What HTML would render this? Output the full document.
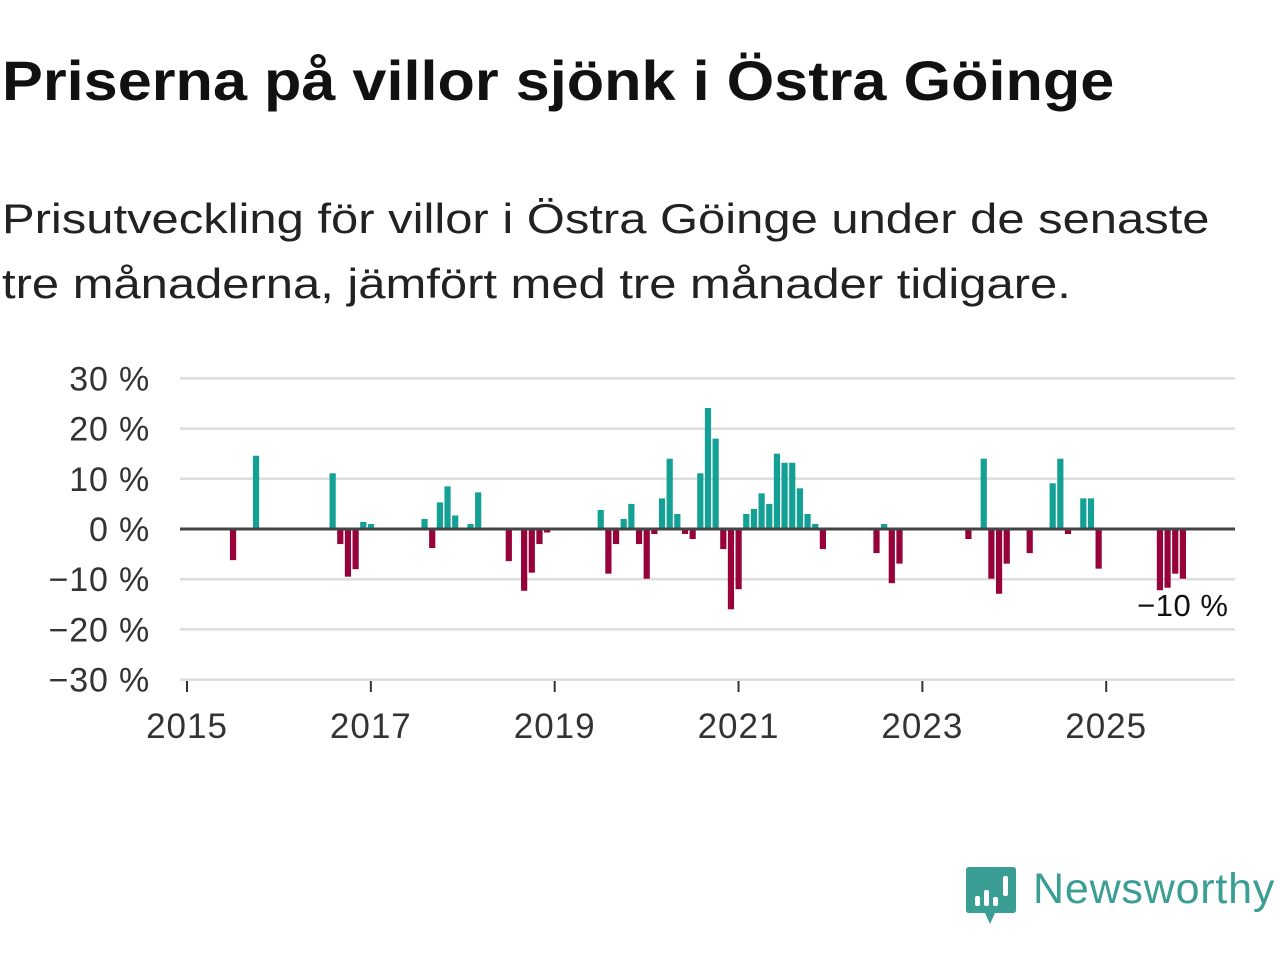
<!DOCTYPE html>
<html><head><meta charset="utf-8">
<style>
html,body{margin:0;padding:0;background:#fff;width:1280px;height:960px;overflow:hidden;font-family:"Liberation Sans","DejaVu Sans",sans-serif;}
#title{position:absolute;left:2px;top:48px;font-size:56px;font-weight:bold;color:#111;margin:0;white-space:nowrap;transform-origin:0 0;transform:scaleX(1.093)}
#subtitle{position:absolute;left:2px;top:186px;font-size:42px;line-height:65px;color:#222;margin:0;white-space:nowrap;transform-origin:0 0;transform:scaleX(1.165)}
svg{position:absolute;left:0;top:0}
</style></head><body>
<h1 id="title">Priserna på villor sjönk i Östra Göinge</h1>
<p id="subtitle">Prisutveckling för villor i Östra Göinge under de senaste<br>tre månaderna, jämfört med tre månader tidigare.</p>
<svg id="chart" width="1280" height="960"></svg>
<script>
const months = [6,9,19,20,21,22,23,24,31,32,33,34,35,37,38,42,44,45,46,47,54,55,56,57,58,59,60,61,62,63,64,65,66,67,68,69,70,71,72,73,74,75,76,77,78,79,80,81,82,83,90,91,92,93,102,104,105,106,107,110,113,114,115,117,118,119,127,128,129,130];
const values = [-6.2,14.6,11.1,-3,-9.5,-8,1.4,1,2,-3.8,5.3,8.5,2.7,1,7.3,-6.4,-12.3,-8.7,-3,-0.7,3.8,-8.9,-3,2,5,-3,-9.9,-1,6.1,14,3,-1,-2,11.1,24.1,18,-4,-16,-12,3,4,7.1,5,15,13.2,13.2,8.1,3,1,-4,-4.8,1,-10.8,-6.9,-2,14,-9.9,-12.9,-6.9,-4.8,9.1,14,-1,6.1,6.1,-7.9,-12.2,-11.7,-8.9,-9.9];
const yTicks = [30,20,10,0,-10,-20,-30];
const xTickYears = [2015,2017,2019,2021,2023,2025];
const lastLabel = "−10 %";

const NS="http://www.w3.org/2000/svg";
const svg=document.getElementById('chart');
const x0=187, pxMonth=7.66, y0=529, pxPct=5.02;
const xScale=m=>x0+m*pxMonth;
const yScale=v=>y0-v*pxPct;
function mk(tag,attrs){const e=document.createElementNS(NS,tag);for(const k in attrs)e.setAttribute(k,attrs[k]);svg.appendChild(e);return e;}

yTicks.forEach(t=>{
  if(t!==0){const g=mk('line',{x1:180,x2:1235,y1:yScale(t),y2:yScale(t),stroke:'#dddddd','stroke-width':2.5});
  
  }
  const lb=mk('text',{x:150,y:yScale(t)+12,'text-anchor':'end','font-size':34,fill:'#333','font-family':'Liberation Sans, sans-serif','letter-spacing':'0.8'});
  lb.textContent=(t<0?'−'+(-t):t)+' %';
  
  
});
xTickYears.forEach(yr=>{
  const x=xScale((yr-2015)*12);
  const tk=mk('line',{x1:x,x2:x,y1:681,y2:692,stroke:'#333','stroke-width':2});
  
  
  const lb=mk('text',{x:x,y:738,'text-anchor':'middle','font-size':35,fill:'#333','font-family':'Liberation Sans, sans-serif','letter-spacing':'1'});
  lb.textContent=yr;
  
  
});
months.forEach((m,i)=>{
  const v=values[i];
  const x=xScale(m)-3;
  const y=v>=0?yScale(v):y0;
  const r=mk('rect',{x:x,y:y,width:6.2,height:Math.abs(v)*pxPct,fill:v>=0?'#13a196':'#97023b'});
  
  
});
const zl=mk('line',{x1:180,x2:1235,y1:y0,y2:y0,stroke:'#444','stroke-width':3});


const lastM=months[months.length-1];
const an=mk('text',{x:xScale(lastM),y:616,'text-anchor':'middle','font-size':31,fill:'#111',stroke:'#fff','stroke-width':5,'paint-order':'stroke','font-family':'Liberation Sans, sans-serif','letter-spacing':'0.5'});
an.textContent=lastLabel;



// logo
const logo=mk('g',{});


const bub=mk('path',{d:'M969 867 h44 q3 0 3 3 v40 q0 3 -3 3 h-18 l-5 11 l-5 -11 h-16 q-3 0 -3 -3 v-40 q0 -3 3 -3z',fill:'#3a9e94'});


[[975,896,5,10],[984,890,5,16],[993,897,5,9],[1003,876,5,20]].forEach(b=>{const r=mk('rect',{x:b[0],y:b[1],width:b[2],height:b[3],rx:2,fill:'#fff'});

});
const lt=mk('text',{x:1033,y:903,'font-size':43,fill:'#3a9e94','font-family':'Liberation Sans, sans-serif','letter-spacing':'0.8'});
lt.textContent='Newsworthy';


</script>
</body></html>
